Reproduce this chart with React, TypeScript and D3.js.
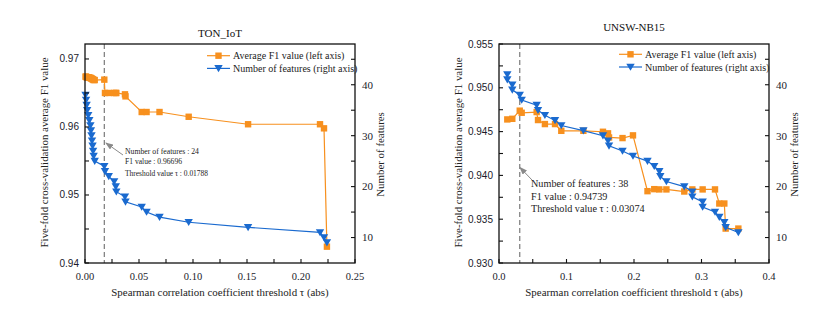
import React from "react";
import * as d3 from "d3";

// ---------- TON_IoT data ----------
const tonX = [0.0005, 0.001, 0.0015, 0.002, 0.003, 0.004, 0.005, 0.0055, 0.006, 0.0065, 0.007, 0.0075, 0.008, 0.009,
  0.01788, 0.0185, 0.022, 0.027, 0.0285, 0.029, 0.037, 0.0375, 0.0525, 0.057, 0.069, 0.096, 0.151, 0.2176, 0.2213, 0.224];
const tonF1 = [0.9674, 0.9674, 0.9673, 0.9673, 0.9673, 0.9673, 0.9672, 0.9672, 0.9671, 0.9671, 0.9670, 0.9670, 0.9669, 0.9669,
  0.96696, 0.9650, 0.9650, 0.9650, 0.9650, 0.9650, 0.9648, 0.9645, 0.9622, 0.9622, 0.9622, 0.9615, 0.9604, 0.9604, 0.9598, 0.9424];
const tonN = [38, 37, 36, 35, 34, 33, 32, 31, 30, 29, 28, 27, 26, 25,
  24, 23, 22, 21, 20, 19, 18, 17, 16, 15, 14, 13, 12, 11, 10, 9];

// ---------- UNSW-NB15 data ----------
const unswF1X = [0.0123, 0.0197, 0.03074, 0.0336, 0.0558, 0.0578, 0.068, 0.083, 0.0923, 0.125, 0.154, 0.1615, 0.163, 0.183,
  0.1985, 0.220, 0.230, 0.2375, 0.248, 0.2745, 0.2864, 0.3017, 0.32, 0.3264, 0.3338, 0.3358, 0.3546];
const unswF1 = [0.94639, 0.94646, 0.94739, 0.94715, 0.94723, 0.94632, 0.94586, 0.94586, 0.94509, 0.94509, 0.94498, 0.9448,
  0.94433, 0.94426, 0.94457, 0.9382, 0.93843, 0.9384, 0.9384, 0.93816, 0.9384, 0.9384, 0.9384, 0.93679, 0.93679, 0.93393, 0.93393];
const unswNX = [0.0123, 0.0123, 0.0197, 0.0197, 0.03074, 0.0336, 0.0558, 0.0578, 0.068, 0.083, 0.0923, 0.125, 0.154, 0.1615,
  0.163, 0.183, 0.1985, 0.220, 0.230, 0.2375, 0.239, 0.248, 0.2745, 0.2864, 0.2864, 0.3017, 0.3017, 0.32, 0.3264, 0.3338, 0.3358, 0.3546];
const unswN = [42, 41, 40, 39, 38, 37, 36, 35, 34, 33, 32, 31, 30, 29,
  28, 27, 26, 25, 24, 23, 22, 21, 20, 19, 18, 17, 16, 15, 14, 13, 12, 11];

// ---------- tick labels ----------
const tonLeftTicks = [0.94, 0.95, 0.96, 0.97];
const tonLeftMinor = [0.945, 0.955, 0.965];
const tonBottomTicks = [0, 0.05, 0.1, 0.15, 0.2, 0.25];
const tonBottomMinor = [0.025, 0.075, 0.125, 0.175, 0.225];
const unswLeftTicks = [0.93, 0.935, 0.94, 0.945, 0.95, 0.955];
const unswLeftMinor = [0.9325, 0.9375, 0.9425, 0.9475, 0.9525];
const unswBottomTicks = [0, 0.1, 0.2, 0.3, 0.4];
const unswBottomMinor = [0.05, 0.15, 0.25, 0.35];
const rightTicks = [10, 20, 30, 40];
const rightMinor = [15, 25, 35, 45];

const ORANGE = "#F7901E";
const BLUE = "#1A6ACF";
const SERIF = "'Liberation Serif', 'Times New Roman', Tinos, serif";
const SANS = "'Liberation Sans', Arial, sans-serif";

type PanelProps = {
  title: string;
  titleY: number;
  left: number;
  right: number;
  xDomain: [number, number];
  yDomain: [number, number];
  f1X: number[];
  f1: number[];
  nX: number[];
  n: number[];
  leftTicks: number[];
  leftMinor: number[];
  leftFmt: string;
  bottomTicks: number[];
  bottomMinor: number[];
  bottomFmt: string;
  thr: number;
  annotation: string[];
  annoX: number;
  annoY: number[];
  annoLen?: number[];
  annoSize: number;
  arrowFrom: [number, number];
  arrowTo: [number, number];
  legendX: number;
  legendY: number;
};

const serif = (size: number) => ({ fontFamily: SERIF, fontSize: size + "px" });
const sans = (size: number) => ({ fontFamily: SANS, fontSize: size + "px" });

function Square({ x, y }: { x: number; y: number }) {
  return <rect x={x - 3.2} y={y - 3.2} width={6.4} height={6.4} fill={ORANGE} />;
}
function Tri({ x, y }: { x: number; y: number }) {
  return <path d={`M${x - 4.2},${y - 3.3}L${x + 4.2},${y - 3.3}L${x},${y + 3.8}Z`} fill={BLUE} />;
}

function Panel(p: PanelProps) {
  const top = 44;
  const bottom = 263;
  const x = d3.scaleLinear().domain(p.xDomain).range([p.left, p.right]);
  const yL = d3.scaleLinear().domain(p.yDomain).range([bottom, top]);
  const yR = d3.scaleLinear().domain([5, 48]).range([bottom, top]);
  const f1Line = d3.line<number>().x((_, i) => x(p.f1X[i])).y((d) => yL(d));
  const nLine = d3.line<number>().x((_, i) => x(p.nX[i])).y((d) => yR(d));
  const fmtL = d3.format(p.leftFmt);
  const fmtB = d3.format(p.bottomFmt);
  const cx = (p.left + p.right) / 2;
  const cy = (top + bottom) / 2;
  const tl = 4;
  const lx = p.legendX;
  return (
    <g>
      <text x={cx} y={p.titleY} textAnchor="middle" style={serif(11)} fill="#111">{p.title}</text>
      {/* dashed threshold */}
      <line x1={x(p.thr)} x2={x(p.thr)} y1={top} y2={bottom} stroke="#7a7a7a" strokeWidth={1.2} strokeDasharray="5,3" />
      {/* series */}
      <path d={f1Line(p.f1) || ""} fill="none" stroke={ORANGE} strokeWidth={1.2} />
      {p.f1.map((d, i) => <Square key={"s" + i} x={x(p.f1X[i])} y={yL(d)} />)}
      <path d={nLine(p.n) || ""} fill="none" stroke={BLUE} strokeWidth={1.2} />
      {p.n.map((d, i) => <Tri key={"t" + i} x={x(p.nX[i])} y={yR(d)} />)}
      {/* frame */}
      <rect x={p.left} y={top} width={p.right - p.left} height={bottom - top} fill="none" stroke="#111" strokeWidth={1.3} />
      {/* left ticks */}
      {[...p.leftTicks, ...p.leftMinor].map((t, i) => (
        <line key={"lt" + i} x1={p.left} x2={p.left + tl} y1={yL(t)} y2={yL(t)} stroke="#111" strokeWidth={1.1} />
      ))}
      {p.leftTicks.map((t, i) => (
        <text key={"ll" + i} x={p.left - 6} y={yL(t)} dy="0.35em" textAnchor="end" style={sans(10)} fill="#1a1a2a">{fmtL(t)}</text>
      ))}
      {/* right ticks */}
      {[...rightTicks, ...rightMinor].map((t, i) => (
        <line key={"rt" + i} x1={p.right} x2={p.right - tl} y1={yR(t)} y2={yR(t)} stroke="#111" strokeWidth={1.1} />
      ))}
      {rightTicks.map((t, i) => (
        <text key={"rl" + i} x={p.right + 7} y={yR(t)} dy="0.35em" textAnchor="start" style={serif(11)} fill="#1a1a2a">{t}</text>
      ))}
      {/* bottom ticks */}
      {[...p.bottomTicks, ...p.bottomMinor].map((t, i) => (
        <line key={"bt" + i} x1={x(t)} x2={x(t)} y1={bottom} y2={bottom - tl} stroke="#111" strokeWidth={1.1} />
      ))}
      {p.bottomTicks.map((t, i) => (
        <text key={"bl" + i} x={x(t)} y={280} textAnchor="middle" style={serif(10.5)} fill="#1a1a2a">{fmtB(t)}</text>
      ))}
      {/* axis titles */}
      <text x={cx} y={295.5} textAnchor="middle" style={serif(10.9)} fill="#222">Spearman correlation coefficient threshold τ (abs)</text>
      <text transform={`translate(${p.left - 37},${cy - 1}) rotate(-90)`} textAnchor="middle" style={serif(10.9)} fill="#222">Five-fold cross-validation average F1 value</text>
      <text transform={`translate(${p.right + 29},${cy + 1}) rotate(-90)`} textAnchor="middle" style={serif(10.9)} fill="#222">Number of features</text>
      {/* annotation */}
      <line x1={p.arrowFrom[0]} y1={p.arrowFrom[1]} x2={p.arrowTo[0]} y2={p.arrowTo[1]} stroke="#8a8a8a" strokeWidth={1} markerEnd="url(#arrowhead)" />
      {p.annotation.map((s, i) => (
        <text key={"a" + i} x={p.annoX} y={p.annoY[i]} style={serif(p.annoSize)} fill="#222"
          {...(p.annoLen ? { textLength: p.annoLen[i], lengthAdjust: "spacingAndGlyphs" } : {})}>{s}</text>
      ))}
      {/* legend */}
      <line x1={lx} x2={lx + 23} y1={p.legendY} y2={p.legendY} stroke={ORANGE} strokeWidth={1.2} />
      <Square x={lx + 11.5} y={p.legendY} />
      <text x={lx + 26} y={p.legendY} dy="0.35em" style={serif(10)} fill="#222">Average F1 value (left axis)</text>
      <line x1={lx} x2={lx + 23} y1={p.legendY + 12.7} y2={p.legendY + 12.7} stroke={BLUE} strokeWidth={1.2} />
      <Tri x={lx + 11.5} y={p.legendY + 12.7} />
      <text x={lx + 26} y={p.legendY + 12.7} dy="0.35em" style={serif(10)} fill="#222">Number of features (right axis)</text>
    </g>
  );
}

export default function App() {
  return (
    <svg width={836} height={313} style={{ position: "absolute", left: 0, top: 0, background: "#fff" }}>
      <defs>
        <marker id="arrowhead" markerWidth={8} markerHeight={6} refX={7} refY={3} orient="auto" markerUnits="userSpaceOnUse">
          <path d="M0,0L8,3L0,6Z" fill="#8a8a8a" />
        </marker>
      </defs>
      <rect width={836} height={313} fill="#fff" />
      <Panel
        title="TON_IoT"
        titleY={37}
        left={85}
        right={355}
        xDomain={[0, 0.25]}
        yDomain={[0.94, 0.9722]}
        f1X={tonX}
        f1={tonF1}
        nX={tonX}
        n={tonN}
        leftTicks={tonLeftTicks}
        leftMinor={tonLeftMinor}
        leftFmt=".2f"
        bottomTicks={tonBottomTicks}
        bottomMinor={tonBottomMinor}
        bottomFmt=".2f"
        thr={0.01788}
        annotation={["Number of features : 24", "F1 value  : 0.96696", "Threshold value τ : 0.01788"]}
        annoX={125}
        annoY={[154, 164, 176]}
        annoLen={[74, 57, 83]}
        annoSize={9}
        arrowFrom={[123, 155]}
        arrowTo={[106, 143]}
        legendX={207}
        legendY={55.7}
      />
      <Panel
        title="UNSW-NB15"
        titleY={31}
        left={499}
        right={769}
        xDomain={[0, 0.4]}
        yDomain={[0.93, 0.955]}
        f1X={unswF1X}
        f1={unswF1}
        nX={unswNX}
        n={unswN}
        leftTicks={unswLeftTicks}
        leftMinor={unswLeftMinor}
        leftFmt=".3f"
        bottomTicks={unswBottomTicks}
        bottomMinor={unswBottomMinor}
        bottomFmt=".1f"
        thr={0.03074}
        annotation={["Number of features : 38", "F1 value : 0.94739", "Threshold value τ : 0.03074"]}
        annoX={531}
        annoY={[187, 199.5, 212]}
        annoSize={10.2}
        arrowFrom={[532, 180]}
        arrowTo={[520, 167.5]}
        legendX={619}
        legendY={54.3}
      />
    </svg>
  );
}
